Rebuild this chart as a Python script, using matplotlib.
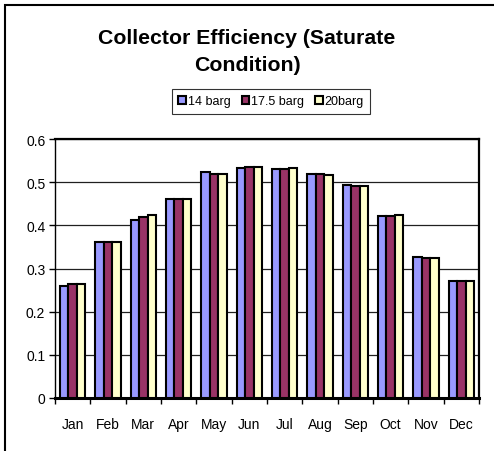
import numpy as np
import matplotlib.pyplot as plt
from matplotlib.patches import Rectangle

plt.rcParams['font.family'] = ['Liberation Sans', 'DejaVu Sans']

months = ['Jan', 'Feb', 'Mar', 'Apr', 'May', 'Jun', 'Jul', 'Aug', 'Sep', 'Oct', 'Nov', 'Dec']
eff_14 = [0.260, 0.361, 0.413, 0.461, 0.523, 0.532, 0.530, 0.519, 0.493, 0.422, 0.326, 0.271]
eff_175 = [0.263, 0.361, 0.419, 0.461, 0.520, 0.535, 0.530, 0.519, 0.490, 0.422, 0.324, 0.271]
eff_20 = [0.263, 0.361, 0.424, 0.461, 0.520, 0.534, 0.532, 0.517, 0.490, 0.425, 0.324, 0.271]
series = [('14 barg', eff_14, '#9999FF'),
          ('17.5 barg', eff_175, '#993366'),
          ('20barg', eff_20, '#FFFFCC')]

fig = plt.figure(figsize=(4.94, 4.52), dpi=100)
ax = fig.add_axes([55 / 494, 53 / 452, 424 / 494, 259 / 452])

x = np.arange(len(months))
w = 1 / 4.2  # excel gap width 120%
for i, (name, vals, col) in enumerate(series):
    ax.bar(x + (i - 1) * w, vals, w, color=col, edgecolor='black', linewidth=1.5,
           label=name, zorder=3)

ax.set_ylim(0, 0.6)
ax.set_xlim(-0.5, 11.5)
ax.set_yticks(np.arange(0, 0.61, 0.1))
ax.set_yticklabels(['0', '0.1', '0.2', '0.3', '0.4', '0.5', '0.6'])
ax.yaxis.grid(True, color='#202020', linewidth=0.9, zorder=0)

ax.set_xticks(np.arange(-0.5, 12, 1))
ax.set_xticklabels([])
ax.set_xticks(x, minor=True)
ax.set_xticklabels(months, minor=True)
ax.tick_params(axis='x', which='minor', length=0, pad=14, labelsize=10)
ax.tick_params(axis='x', which='major', length=4, width=1)
ax.tick_params(axis='y', length=4, width=1, pad=3, labelsize=10)

for s in ['top', 'right']:
    ax.spines[s].set_linewidth(1.6)
ax.spines['left'].set_linewidth(1.0)
ax.spines['bottom'].set_linewidth(2.2)

fig.text(0.5, (452 - 52) / 452, 'Collector Efficiency (Saturate\nCondition)', ha='center',
         va='center', fontsize=15.3, fontweight='bold', linespacing=1.5)

leg = fig.legend(loc='center', bbox_to_anchor=(271 / 494, (452 - 102.5) / 452), ncol=3,
                 fontsize=9, frameon=True, fancybox=False, edgecolor='black',
                 handlelength=0.6, handleheight=0.6, handletextpad=0.15,
                 columnspacing=0.9, borderpad=0.5, borderaxespad=0)
leg.get_frame().set_linewidth(0.8)

fig.patches.append(Rectangle((5 / 494, -0.05), 1.2, (446 / 452) + 0.05,
                             transform=fig.transFigure, fill=False,
                             edgecolor='black', linewidth=1.5))

fig.savefig('out.png', dpi=100)
